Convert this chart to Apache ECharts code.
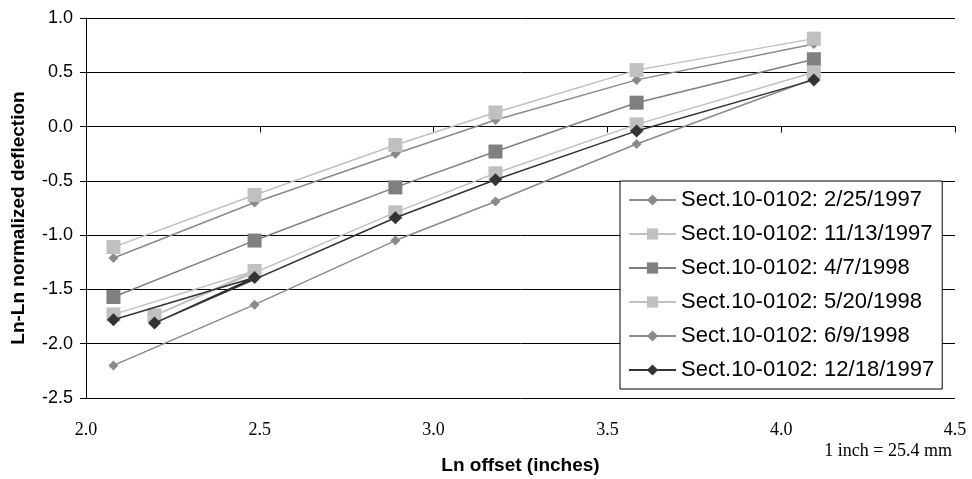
<!DOCTYPE html>
<html>
<head>
<meta charset="utf-8">
<script src="https://cdn.jsdelivr.net/npm/echarts@6/dist/echarts.min.js"></script>
<style>html,body{margin:0;padding:0;background:#fff;}#c{width:972px;height:479px;}</style>
</head>
<body>
<div id="c"></div>
<script>
// Ln offset positions (ln of 8, 12, 18, 24, 36, 60 inches; ln 9 for two surveys)
const xMain = [2.079, 2.485, 2.890, 3.178, 3.584, 4.094];
const xNine = [2.079, 2.485, 2.197, 2.890, 3.178, 3.584, 4.094];

const seriesNames = [
  'Sect.10-0102: 2/25/1997',
  'Sect.10-0102: 11/13/1997',
  'Sect.10-0102: 4/7/1998',
  'Sect.10-0102: 5/20/1998',
  'Sect.10-0102: 6/9/1998',
  'Sect.10-0102: 12/18/1997'
];
const s0225_1997 = [-1.21, -0.70, -0.25, 0.06, 0.43, 0.76];
const s1113_1997 = [-1.11, -0.63, -0.17, 0.13, 0.52, 0.81];
const s0407_1998 = [-1.57, -1.05, -0.56, -0.23, 0.22, 0.62];
const s0520_1998 = [-1.73, -1.33, -1.74, -0.79, -0.43, 0.02, 0.50];
const s0609_1998 = [-2.20, -1.64, -1.05, -0.69, -0.16, 0.44];
const s1218_1997 = [-1.78, -1.39, -1.81, -0.84, -0.49, -0.04, 0.43];

const yTicks = [-2.5, -2.0, -1.5, -1.0, -0.5, 0.0, 0.5, 1.0];
const xTicks = [2.0, 2.5, 3.0, 3.5, 4.0, 4.5];

function pairs(xs, ys) { return xs.map((x, i) => [x, ys[i]]); }

const styles = [
  {color: '#8a8a8a', symbol: 'diamond', size: 10},
  {color: '#c0c0c0', symbol: 'rect', size: 14},
  {color: '#7f7f7f', symbol: 'rect', size: 14},
  {color: '#c0c0c0', symbol: 'rect', size: 14},
  {color: '#8a8a8a', symbol: 'diamond', size: 10},
  {color: '#333333', symbol: 'diamond', size: 13}
];
const dataSets = [
  pairs(xMain, s0225_1997),
  pairs(xMain, s1113_1997),
  pairs(xMain, s0407_1998),
  pairs(xNine, s0520_1998),
  pairs(xMain, s0609_1998),
  pairs(xNine, s1218_1997)
];

const chart = echarts.init(document.getElementById('c'), null, {renderer: 'canvas'});
chart.setOption({
  animation: false,
  backgroundColor: '#ffffff',
  grid: {left: 86, right: 17, top: 18, bottom: 81, containLabel: false, outerBoundsMode: 'none'},
  xAxis: {
    type: 'value', min: 2.0, max: 4.5, interval: 0.5,
    name: 'Ln offset (inches)', nameLocation: 'middle', nameGap: 58,
    nameTextStyle: {fontFamily: 'Liberation Sans', fontWeight: 'bold', fontSize: 19, color: '#000'},
    axisLine: {lineStyle: {color: '#000', width: 1}},
    axisTick: {show: true, length: 6, lineStyle: {color: '#000'}},
    axisLabel: {fontFamily: 'Liberation Serif', fontSize: 18, color: '#000', margin: 23,
      formatter: v => v.toFixed(1)},
    splitLine: {show: false}
  },
  yAxis: {
    type: 'value', min: -2.5, max: 1.0, interval: 0.5,
    name: 'Ln-Ln normalized deflection', nameLocation: 'middle', nameGap: 58, nameRotate: 90,
    nameTextStyle: {fontFamily: 'Liberation Sans', fontWeight: 'bold', fontSize: 19, color: '#000',
      padding: [0, 20, 0, 0]},
    axisLine: {show: true, lineStyle: {color: '#000', width: 1}},
    axisTick: {show: true, length: 6, lineStyle: {color: '#000'}},
    axisLabel: {fontFamily: 'Liberation Sans', fontSize: 18, color: '#000', margin: 13,
      formatter: v => v.toFixed(1)},
    splitLine: {show: true, lineStyle: {color: '#000', width: 1}}
  },
  legend: {
    orient: 'vertical', left: 620, top: 181,
    data: seriesNames,
    backgroundColor: '#fff', borderColor: '#000', borderWidth: 1,
    padding: [8, 8, 8, 8], itemGap: 12, itemWidth: 47, itemHeight: 14,
    textStyle: {fontFamily: 'Liberation Sans', fontSize: 22, lineHeight: 22, color: '#000'}
  },
  graphic: [{
    type: 'text', right: 20, top: 442,
    style: {text: '1 inch = 25.4 mm', font: '18px "Liberation Serif"', fill: '#000'}
  }],
  series: dataSets.map((d, i) => ({
    type: 'line', name: seriesNames[i], data: d,
    symbol: styles[i].symbol, symbolSize: styles[i].size,
    showAllSymbol: true,
    lineStyle: {color: styles[i].color, width: 1.5},
    itemStyle: {color: styles[i].color},
    z: 2 + i
  }))
});
</script>
</body>
</html>
